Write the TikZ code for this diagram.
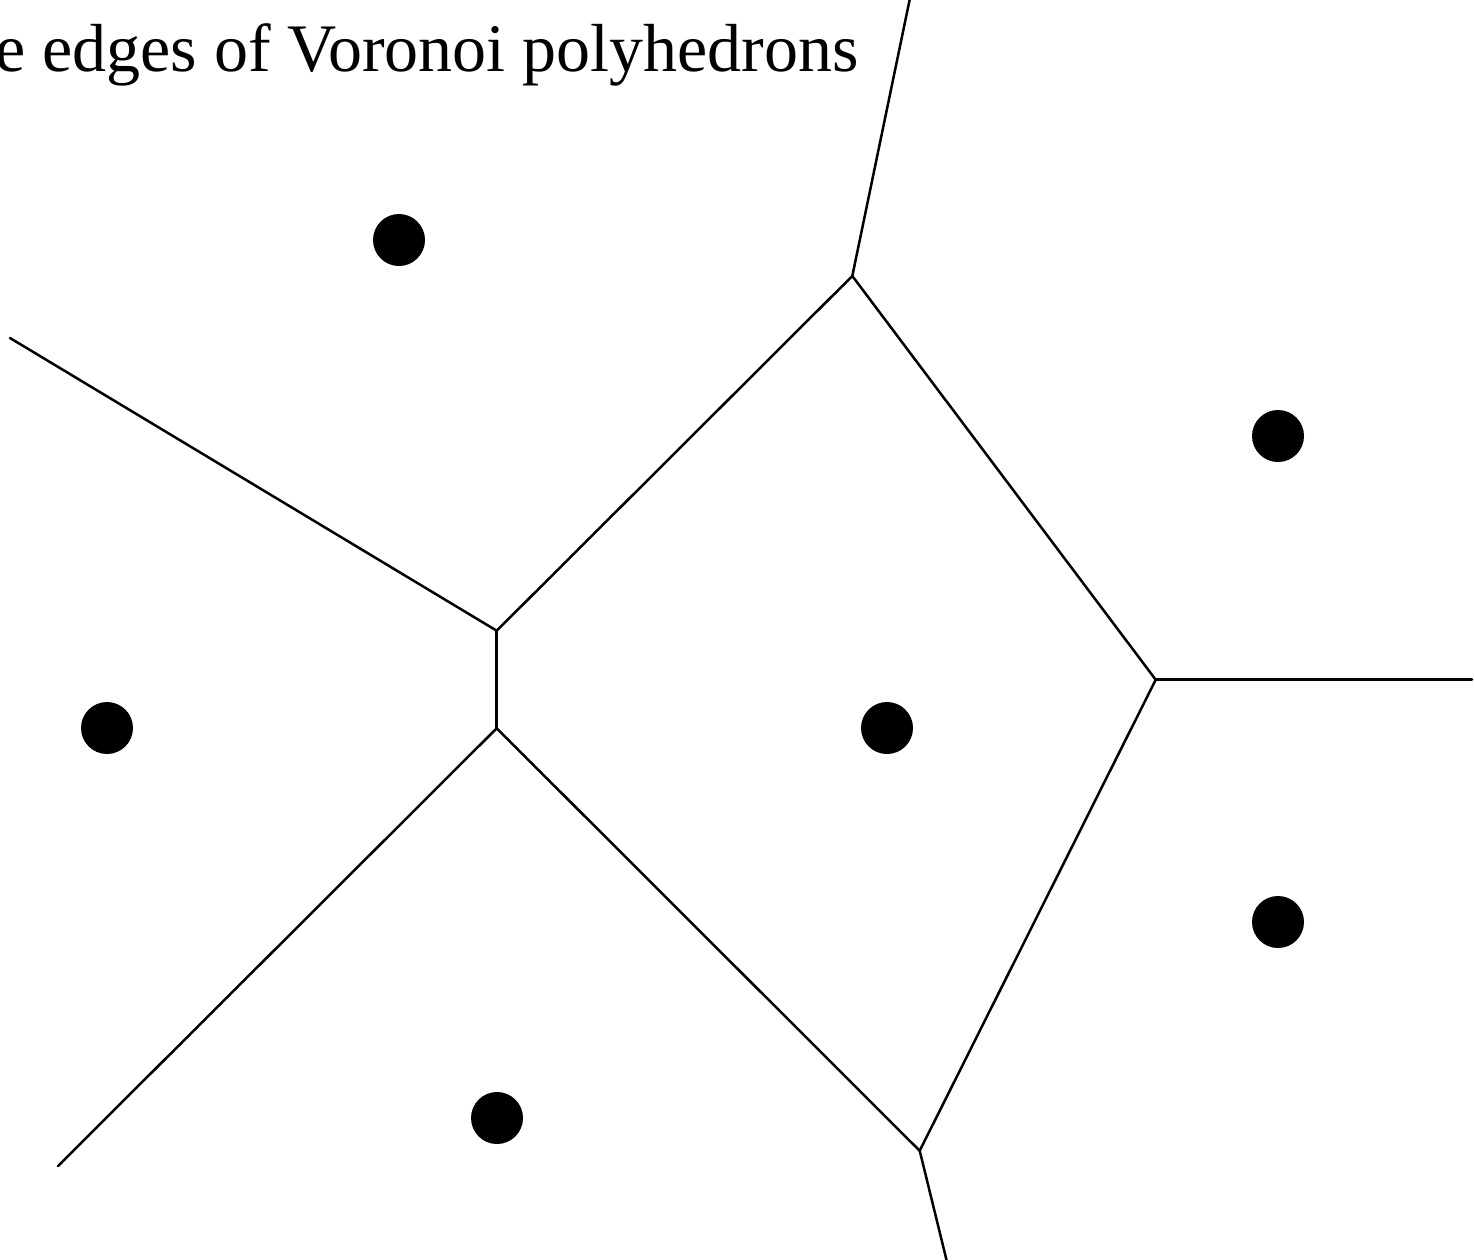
\documentclass[tikz,border=0pt]{standalone}
\usepackage{fontspec}
\setmainfont{Liberation Serif}
\begin{document}
\begin{tikzpicture}[x=1pt,y=-1pt,
  edge/.style={line width=2.5pt,line cap=round,line join=round},
  site/.style={circle,fill=black,inner sep=0pt,minimum size=52pt}]
\useasboundingbox (0,0) rectangle (1474,1259);
\clip (0,0) rectangle (1474,1259);
\node[anchor=base east,inner sep=0pt,font=\fontsize{68}{80}\selectfont] (title) at (859,71) {e edges of Voronoi polyhedrons};
% Voronoi vertices
\coordinate (v1) at (852.3,276);
\coordinate (v2) at (496.7,630.7);
\coordinate (v3) at (496.7,728.3);
\coordinate (v4) at (1155.7,679.7);
\coordinate (v5) at (919.7,1150.7);
% free ends
\coordinate (e1) at (910,-2);
\coordinate (e2) at (10,338);
\coordinate (e3) at (58,1166);
\coordinate (e4) at (1472,679.7);
\coordinate (e5) at (947,1262);
% edges
\draw[edge] (e1) -- (v1);
\draw[edge] (v1) -- (v2);
\draw[edge] (v1) -- (v4);
\draw[edge] (e2) -- (v2);
\draw[edge] (v2) -- (v3);
\draw[edge] (v3) -- (e3);
\draw[edge] (v3) -- (v5);
\draw[edge] (v4) -- (v5);
\draw[edge] (v4) -- (e4);
\draw[edge] (v5) -- (e5);
% sites
\node[site] (s1) at (399,240) {};
\node[site] (s2) at (1278,436) {};
\node[site] (s3) at (107,728) {};
\node[site] (s4) at (887,728) {};
\node[site] (s5) at (1278,922) {};
\node[site] (s6) at (497,1118) {};
\end{tikzpicture}
\end{document}
